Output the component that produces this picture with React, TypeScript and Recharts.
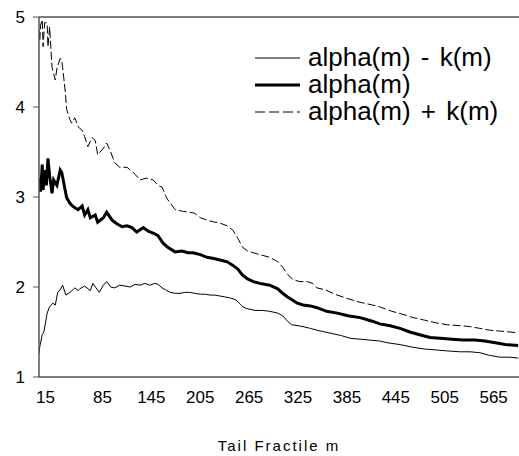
import { LineChart, Line, XAxis, YAxis, ReferenceLine, Label } from 'recharts';

// tail fractile m (x positions) and estimates for each curve
const lowerM = [1, 2, 5, 7, 11, 14, 18, 21, 24, 27, 30, 34, 39, 45, 49, 51, 57, 64, 67, 71, 75, 80, 84, 89, 94, 100, 107, 113, 119, 125, 131, 137, 143, 147, 152, 156, 162, 168, 174, 180, 186, 192, 199, 205, 211, 217, 223, 229, 235, 242, 248, 251, 256, 266, 275, 284, 294, 300, 306, 311, 319, 325, 334, 342, 352, 362, 372, 383, 395, 407, 419, 429, 444, 460, 475, 489, 502, 518, 530, 542, 554, 567, 579, 589];
const lowerVal = [1.26, 1.34, 1.47, 1.5, 1.71, 1.78, 1.82, 1.8, 1.94, 1.97, 2.02, 1.91, 1.94, 1.99, 1.96, 1.98, 2.01, 1.96, 2.04, 1.99, 1.94, 2.02, 2.06, 2.0, 1.99, 2.02, 2.01, 2.0, 2.03, 2.02, 2.04, 2.02, 2.04, 2.03, 1.99, 1.97, 1.94, 1.93, 1.93, 1.94, 1.94, 1.93, 1.92, 1.92, 1.91, 1.91, 1.9, 1.89, 1.88, 1.86, 1.81, 1.78, 1.76, 1.74, 1.74, 1.73, 1.71, 1.68, 1.62, 1.58, 1.57, 1.56, 1.54, 1.52, 1.5, 1.48, 1.46, 1.43, 1.42, 1.41, 1.4, 1.38, 1.36, 1.33, 1.31, 1.3, 1.29, 1.28, 1.28, 1.27, 1.24, 1.22, 1.22, 1.21];

const alphaM = [1, 2, 3, 5, 6, 8, 10, 12, 14, 17, 19, 23, 27, 29, 33, 35, 39, 41, 45, 49, 54, 57, 61, 64, 70, 73, 80, 84, 91, 97, 103, 109, 115, 121, 129, 135, 141, 147, 153, 159, 168, 176, 184, 190, 199, 207, 214, 223, 232, 239, 245, 251, 257, 264, 272, 284, 294, 300, 306, 311, 318, 325, 334, 342, 354, 367, 380, 395, 410, 419, 432, 444, 456, 468, 481, 493, 508, 521, 536, 548, 561, 573, 589];
const alphaVal = [3.1, 3.21, 3.06, 3.36, 3.08, 3.3, 3.13, 3.43, 3.24, 3.04, 3.19, 3.13, 3.3, 3.27, 3.08, 2.99, 2.93, 2.91, 2.88, 2.86, 2.9, 2.8, 2.86, 2.77, 2.8, 2.72, 2.77, 2.83, 2.74, 2.7, 2.67, 2.68, 2.66, 2.61, 2.66, 2.62, 2.6, 2.57, 2.49, 2.44, 2.39, 2.4, 2.38, 2.38, 2.36, 2.33, 2.32, 2.3, 2.28, 2.24, 2.2, 2.13, 2.09, 2.06, 2.04, 2.02, 1.98, 1.93, 1.89, 1.86, 1.82, 1.8, 1.79, 1.77, 1.73, 1.71, 1.68, 1.66, 1.62, 1.59, 1.57, 1.54, 1.5, 1.47, 1.44, 1.43, 1.42, 1.41, 1.41, 1.4, 1.38, 1.36, 1.35];

const upperM = [1, 2, 3, 5, 6, 8, 11, 12, 14, 17, 21, 23, 27, 29, 30, 33, 35, 39, 41, 45, 49, 54, 57, 61, 66, 70, 73, 80, 84, 89, 94, 100, 109, 116, 125, 133, 141, 147, 152, 156, 159, 168, 178, 186, 192, 199, 208, 217, 223, 232, 239, 245, 251, 257, 264, 272, 284, 294, 300, 306, 313, 321, 330, 337, 342, 352, 367, 380, 395, 410, 419, 434, 450, 460, 475, 489, 502, 518, 530, 542, 554, 567, 579, 589];
const upperVal = [4.86, 4.74, 4.91, 4.97, 4.67, 4.94, 4.93, 4.67, 4.89, 4.44, 4.3, 4.43, 4.54, 4.5, 4.44, 4.19, 3.97, 3.86, 3.82, 3.88, 3.78, 3.74, 3.67, 3.56, 3.66, 3.63, 3.47, 3.54, 3.6, 3.5, 3.38, 3.33, 3.33, 3.28, 3.19, 3.21, 3.19, 3.13, 3.11, 3.02, 2.97, 2.86, 2.84, 2.83, 2.82, 2.77, 2.74, 2.72, 2.71, 2.68, 2.63, 2.54, 2.44, 2.4, 2.38, 2.36, 2.33, 2.28, 2.22, 2.14, 2.08, 2.06, 2.06, 2.04, 1.99, 1.97, 1.91, 1.87, 1.83, 1.8, 1.78, 1.73, 1.69, 1.66, 1.63, 1.6, 1.58, 1.57, 1.56, 1.54, 1.52, 1.51, 1.5, 1.49];

const xTicks = [15, 85, 145, 205, 265, 325, 385, 445, 505, 565];
const yTicks = [1, 2, 3, 4, 5];
const seriesNames = ['alpha(m) - k(m)', 'alpha(m)', 'alpha(m) + k(m)'];

const FONT = '"Liberation Sans", Arial, sans-serif';
const AXIS = '#555';

const toPoints = (ms: number[], vals: number[]) => ms.map((m, i) => ({ m, v: vals[i] }));

// legend strokes: thin, thick, dashed
const legendStyles = [
  { w: 1, dash: undefined },
  { w: 3, dash: undefined },
  { w: 1, dash: '10 4' },
];

// drawn as an overlay so it doesn't eat into the plot area
const ChartLegend = () => (
  <div style={{ position: 'absolute', left: 252, top: 44, fontFamily: FONT, fontSize: 26, lineHeight: '27px', color: '#000' }}>
    {seriesNames.map((name, i) => (
      <div key={name} style={{ display: 'flex', alignItems: 'center', whiteSpace: 'nowrap', wordSpacing: 3 }}>
        <svg width={56} height={27}>
          <line x1={3} x2={48} y1={14} y2={14} stroke="#000" strokeWidth={legendStyles[i].w} strokeDasharray={legendStyles[i].dash} />
        </svg>
        <span>{name}</span>
      </div>
    ))}
  </div>
);

export default function App() {
  return (
    <div style={{ position: 'absolute', left: 0, top: 0, width: 519, height: 456, background: '#fff' }}>
      <LineChart width={519} height={456} margin={{ top: 17, right: 0, left: 0, bottom: 0 }}>
        <XAxis
          dataKey="m"
          type="number"
          domain={[1, 590]}
          ticks={xTicks}
          allowDataOverflow
          height={79}
          tickLine={false}
          tickMargin={8}
          axisLine={{ stroke: AXIS, strokeWidth: 1.5 }}
          tick={{ fill: '#000', fontSize: 17, fontFamily: FONT, dx: -5 }}
        >
          <Label value="Tail Fractile m" position="insideBottom" offset={5} style={{ fill: '#000', fontSize: 15, fontFamily: FONT, letterSpacing: 2 }} />
        </XAxis>
        <YAxis
          type="number"
          domain={[1, 5]}
          ticks={yTicks}
          width={39}
          tickSize={6}
          tickMargin={8}
          axisLine={{ stroke: AXIS, strokeWidth: 1.5 }}
          tickLine={{ stroke: AXIS }}
          tick={{ fill: '#000', fontSize: 17, fontFamily: FONT }}
        />
        <ReferenceLine y={5} stroke={AXIS} strokeWidth={1.5} />
        <Line data={toPoints(lowerM, lowerVal)} dataKey="v" name={seriesNames[0]} stroke="#000" strokeWidth={1} dot={false} isAnimationActive={false} />
        <Line data={toPoints(alphaM, alphaVal)} dataKey="v" name={seriesNames[1]} stroke="#000" strokeWidth={3} dot={false} isAnimationActive={false} />
        <Line data={toPoints(upperM, upperVal)} dataKey="v" name={seriesNames[2]} stroke="#000" strokeWidth={1} strokeDasharray="8 3" dot={false} isAnimationActive={false} />
      </LineChart>
      <ChartLegend />
    </div>
  );
}
